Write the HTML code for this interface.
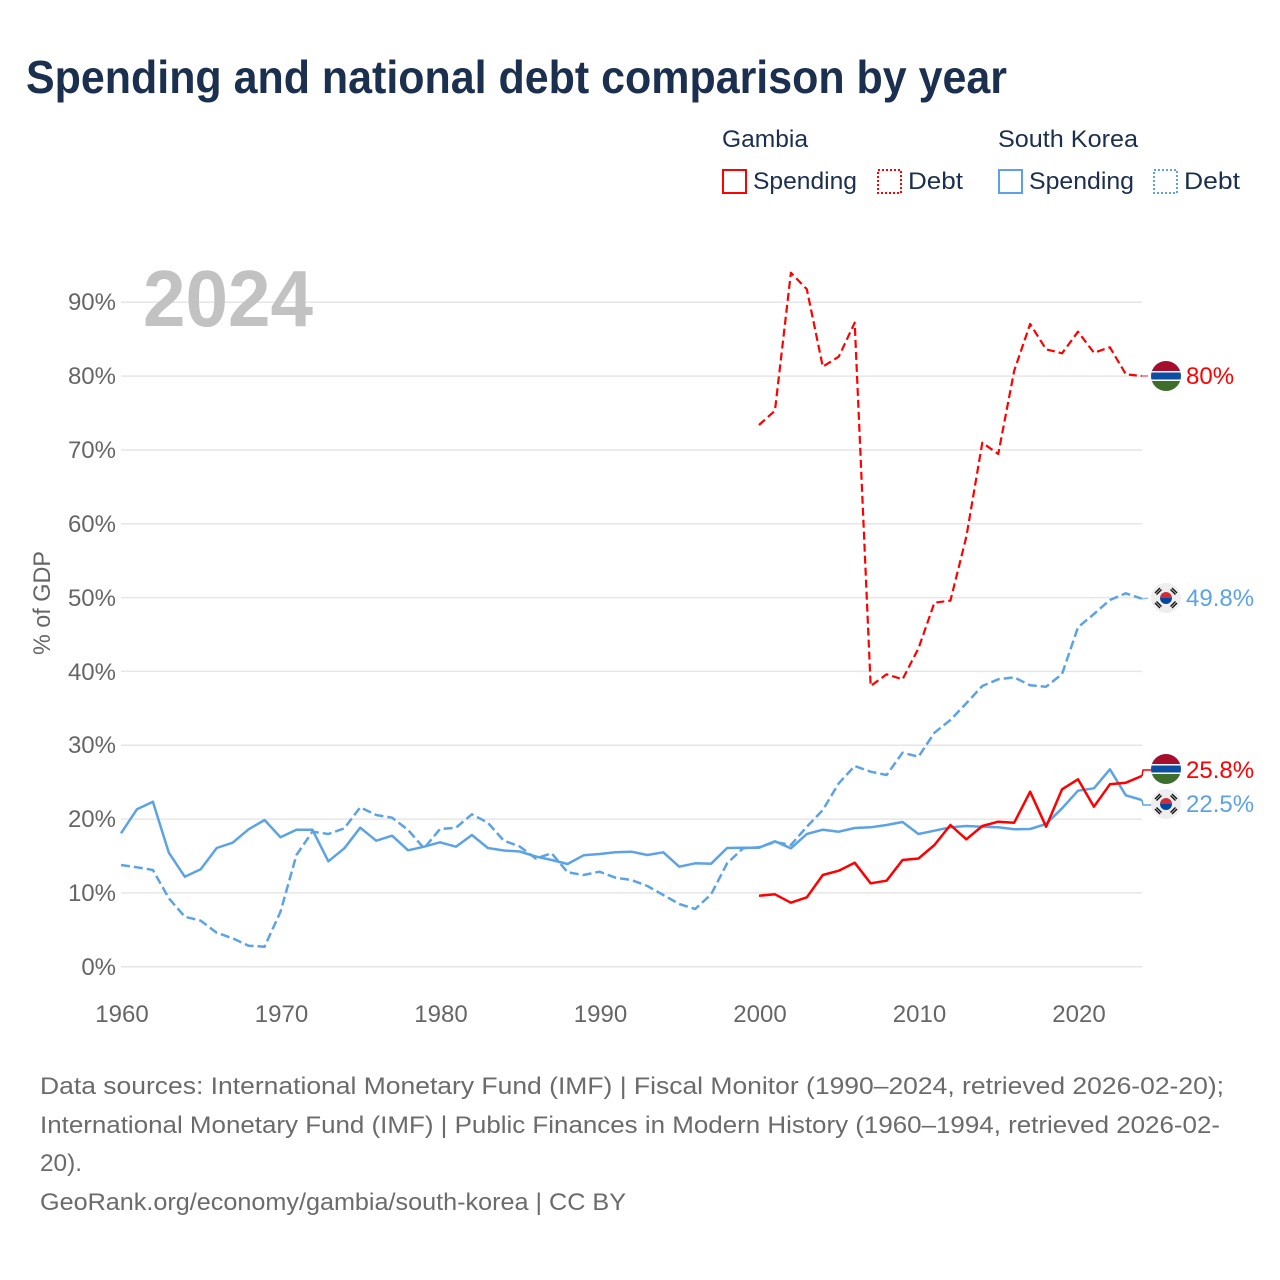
<!DOCTYPE html>
<html><head><meta charset="utf-8"><style>
html,body{margin:0;padding:0;background:#fff;}
svg{display:block;font-family:"Liberation Sans",sans-serif;}
</style></head><body>
<svg width="1280" height="1280" viewBox="0 0 1280 1280" xmlns="http://www.w3.org/2000/svg">
<rect width="1280" height="1280" fill="#fff"/>
<text x="26" y="93" font-size="46" font-weight="bold" fill="#1b2f4e" textLength="981" lengthAdjust="spacingAndGlyphs">Spending and national debt comparison by year</text>

<!-- legend -->
<g fill="#1b2f4e" font-size="24">
<text x="722" y="147" textLength="86" lengthAdjust="spacingAndGlyphs">Gambia</text>
<text x="998" y="147" textLength="140" lengthAdjust="spacingAndGlyphs">South Korea</text>
<text x="753" y="189" textLength="104" lengthAdjust="spacingAndGlyphs">Spending</text>
<text x="908" y="189" textLength="55" lengthAdjust="spacingAndGlyphs">Debt</text>
<text x="1029" y="189" textLength="105" lengthAdjust="spacingAndGlyphs">Spending</text>
<text x="1184" y="189" textLength="56" lengthAdjust="spacingAndGlyphs">Debt</text>
</g>
<rect x="723" y="170" width="23" height="23" fill="none" stroke="#ff0000" stroke-width="2"/>
<rect x="878" y="170" width="23" height="23" fill="none" stroke="#ff0000" stroke-width="2" stroke-dasharray="2,2"/>
<rect x="999" y="170" width="23" height="23" fill="none" stroke="#5ca3e6" stroke-width="2"/>
<rect x="1154" y="170" width="23" height="23" fill="none" stroke="#5ca3e6" stroke-width="2" stroke-dasharray="2,2"/>

<!-- gridlines -->
<g stroke="#e6e6e6" stroke-width="1.5">
<line x1="121" y1="966.7" x2="1142" y2="966.7"/>
<line x1="121" y1="892.9" x2="1142" y2="892.9"/>
<line x1="121" y1="819.1" x2="1142" y2="819.1"/>
<line x1="121" y1="745.2" x2="1142" y2="745.2"/>
<line x1="121" y1="671.4" x2="1142" y2="671.4"/>
<line x1="121" y1="597.6" x2="1142" y2="597.6"/>
<line x1="121" y1="523.8" x2="1142" y2="523.8"/>
<line x1="121" y1="450" x2="1142" y2="450"/>
<line x1="121" y1="376.1" x2="1142" y2="376.1"/>
<line x1="121" y1="302.3" x2="1142" y2="302.3"/>
</g>

<!-- big year -->
<text x="143" y="326" font-size="80" font-weight="bold" fill="#c2c2c2" textLength="170" lengthAdjust="spacingAndGlyphs">2024</text>

<!-- y tick labels -->
<g fill="#666" font-size="24" text-anchor="end">
<text x="116" y="975">0%</text>
<text x="116" y="901">10%</text>
<text x="116" y="827">20%</text>
<text x="116" y="753">30%</text>
<text x="116" y="680">40%</text>
<text x="116" y="606">50%</text>
<text x="116" y="532">60%</text>
<text x="116" y="458">70%</text>
<text x="116" y="384">80%</text>
<text x="116" y="310">90%</text>
</g>
<text transform="translate(50,603) rotate(-90)" font-size="24" fill="#666" text-anchor="middle" textLength="104" lengthAdjust="spacingAndGlyphs">% of GDP</text>

<!-- x tick labels -->
<g fill="#666" font-size="24" text-anchor="middle">
<text x="122" y="1022">1960</text>
<text x="281.5" y="1022">1970</text>
<text x="441" y="1022">1980</text>
<text x="600.5" y="1022">1990</text>
<text x="760" y="1022">2000</text>
<text x="919.5" y="1022">2010</text>
<text x="1079" y="1022">2020</text>
</g>

<!-- Korea debt -->
<polyline fill="none" stroke="#5ca3e6" stroke-width="2.5" stroke-dasharray="9,4" stroke-linejoin="round" points="121,865 136.95,867.3 152.9,870 168.85,898.3 184.8,916.7 200.75,920.7 216.7,932.7 232.65,938.3 248.6,945.7 264.55,946.7 280.5,911.7 296.45,855 312.4,831.7 328.35,834 344.3,828.3 360.25,807.3 376.2,815 392.15,817.7 408.1,830 424.05,848.3 440,829 455.95,827.7 471.9,814.3 487.85,822.7 503.8,840.7 519.75,846.5 535.7,858.5 551.65,853.3 567.6,872.3 583.55,875 599.5,871.7 615.45,877.7 631.4,880 647.35,886 663.3,895 679.25,904 695.2,909 711.15,894.3 727.1,863.3 743.05,848.3 759,847.3 774.95,842 790.9,845 806.85,826.7 822.8,810 838.75,783.3 854.7,766 870.65,771.7 886.6,775 902.55,752.7 918.5,756.7 934.45,732.7 950.4,720 966.35,703.3 982.3,686 998.25,679.3 1014.2,677.3 1030.15,685.3 1046.1,686.7 1062.05,674 1078,627.3 1093.95,614 1109.9,600 1125.85,593.3 1141.8,598.7"/>
<!-- Korea spending -->
<polyline fill="none" stroke="#5ca3e6" stroke-width="2.5" stroke-linejoin="round" points="121,833.3 136.95,809.3 152.9,801.7 168.85,852.7 184.8,876.7 200.75,869.3 216.7,848 232.65,842.7 248.6,829.3 264.55,820 280.5,837.3 296.45,829.7 312.4,829.7 328.35,861.3 344.3,848.3 360.25,827.7 376.2,840.7 392.15,835.7 408.1,850.3 424.05,846.7 440,842.3 455.95,846.7 471.9,835 487.85,848 503.8,850.5 519.75,851.5 535.7,856.5 551.65,860 567.6,864 583.55,855.3 599.5,854 615.45,852.3 631.4,851.7 647.35,855 663.3,852.3 679.25,866.7 695.2,863.3 711.15,863.7 727.1,848 743.05,847.7 759,847.7 774.95,841.3 790.9,848.3 806.85,834 822.8,829.7 838.75,831.7 854.7,828 870.65,827.3 886.6,825 902.55,822 918.5,834 934.45,830.7 950.4,827.3 966.35,826 982.3,826.7 998.25,827.3 1014.2,829.3 1030.15,829 1046.1,824 1062.05,808.3 1078,790.7 1093.95,788.3 1109.9,769.3 1125.85,795.3 1141.8,800"/>
<!-- Gambia debt -->
<polyline fill="none" stroke="#ff0000" stroke-width="2.2" stroke-dasharray="8,4" stroke-linejoin="round" points="759,425 774.95,410.7 790.9,272.7 806.85,289.3 822.8,366.7 838.75,356.7 854.7,322.7 870.65,686 886.6,674.3 902.55,679.3 918.5,648.3 934.45,602.7 950.4,600.7 966.35,536.7 982.3,442.7 998.25,454 1014.2,370.7 1030.15,324 1046.1,349.3 1062.05,353.3 1078,331.7 1093.95,352.7 1109.9,347.3 1125.85,374.3 1141.8,376"/>
<!-- Gambia spending -->
<polyline fill="none" stroke="#ff0000" stroke-width="2.5" stroke-linejoin="round" points="759,895.7 774.95,894.3 790.9,902.7 806.85,897.3 822.8,875 838.75,870.7 854.7,862.7 870.65,883.3 886.6,880.7 902.55,860 918.5,858.5 934.45,845 950.4,825 966.35,839.3 982.3,826 998.25,821.7 1014.2,822.7 1030.15,791.7 1046.1,826.7 1062.05,789.3 1078,779.3 1093.95,806.7 1109.9,784.3 1125.85,782.7 1141.8,776"/>

<!-- connectors -->
<polyline fill="none" stroke="#ff6666" stroke-width="1.5" stroke-dasharray="6,3" points="1142,376 1152,376"/>
<polyline fill="none" stroke="#8cc0ef" stroke-width="1.5" stroke-dasharray="6,3" points="1142,598.7 1152,598"/>
<polyline fill="none" stroke="#ff0000" stroke-width="1.5" points="1142,776 1143,770 1152,770"/>
<polyline fill="none" stroke="#5ca3e6" stroke-width="1.5" points="1142,800 1143,805 1152,805"/>

<!-- flags -->
<defs>
<clipPath id="cg1"><circle cx="1166" cy="376" r="15"/></clipPath>
<clipPath id="cg2"><circle cx="1166" cy="769" r="15"/></clipPath>
<g id="kr">
<circle cx="0" cy="0" r="15" fill="#eeeeee"/>
<path d="M-6,0 A6,6 0 0 1 6,0 Z" fill="#cd2e3a"/>
<path d="M-6,0 A6,6 0 0 0 6,0 Z" fill="#0047a0"/>
<g stroke="#111" stroke-width="1.4">
<line x1="-11" y1="-5" x2="-6" y2="-10"/><line x1="-9.5" y1="-3.5" x2="-4.5" y2="-8.5"/>
<line x1="11" y1="-5" x2="6" y2="-10"/><line x1="9.5" y1="-3.5" x2="4.5" y2="-8.5"/>
<line x1="-11" y1="5" x2="-6" y2="10"/><line x1="-9.5" y1="3.5" x2="-4.5" y2="8.5"/>
<line x1="11" y1="5" x2="6" y2="10"/><line x1="9.5" y1="3.5" x2="4.5" y2="8.5"/>
</g>
</g>
</defs>
<g clip-path="url(#cg1)">
<rect x="1151" y="361" width="30" height="30" fill="#fff"/>
<rect x="1151" y="361" width="30" height="10" fill="#a50f2d"/>
<rect x="1151" y="372.5" width="30" height="7" fill="#0c4ea2"/>
<rect x="1151" y="381" width="30" height="10" fill="#3d6e2c"/>
</g>
<g clip-path="url(#cg2)">
<rect x="1151" y="754" width="30" height="30" fill="#fff"/>
<rect x="1151" y="754" width="30" height="10" fill="#a50f2d"/>
<rect x="1151" y="765.5" width="30" height="7" fill="#0c4ea2"/>
<rect x="1151" y="774" width="30" height="10" fill="#3d6e2c"/>
</g>
<use href="#kr" x="1166" y="598"/>
<use href="#kr" x="1166" y="804"/>

<!-- end labels -->
<g font-size="24">
<text x="1186" y="384" fill="#ff0000">80%</text>
<text x="1186" y="606" fill="#5ca3e6">49.8%</text>
<text x="1186" y="778" fill="#ff0000">25.8%</text>
<text x="1186" y="812" fill="#5ca3e6">22.5%</text>
</g>

<!-- footer -->
<g fill="#6b6b6b" font-size="24">
<text x="40" y="1094" textLength="1184" lengthAdjust="spacingAndGlyphs">Data sources: International Monetary Fund (IMF) | Fiscal Monitor (1990–2024, retrieved 2026-02-20);</text>
<text x="40" y="1133" textLength="1180" lengthAdjust="spacingAndGlyphs">International Monetary Fund (IMF) | Public Finances in Modern History (1960–1994, retrieved 2026-02-</text>
<text x="40" y="1171" textLength="42" lengthAdjust="spacingAndGlyphs">20).</text>
<text x="40" y="1210" textLength="586" lengthAdjust="spacingAndGlyphs">GeoRank.org/economy/gambia/south-korea | CC BY</text>
</g>
</svg>
</body></html>
